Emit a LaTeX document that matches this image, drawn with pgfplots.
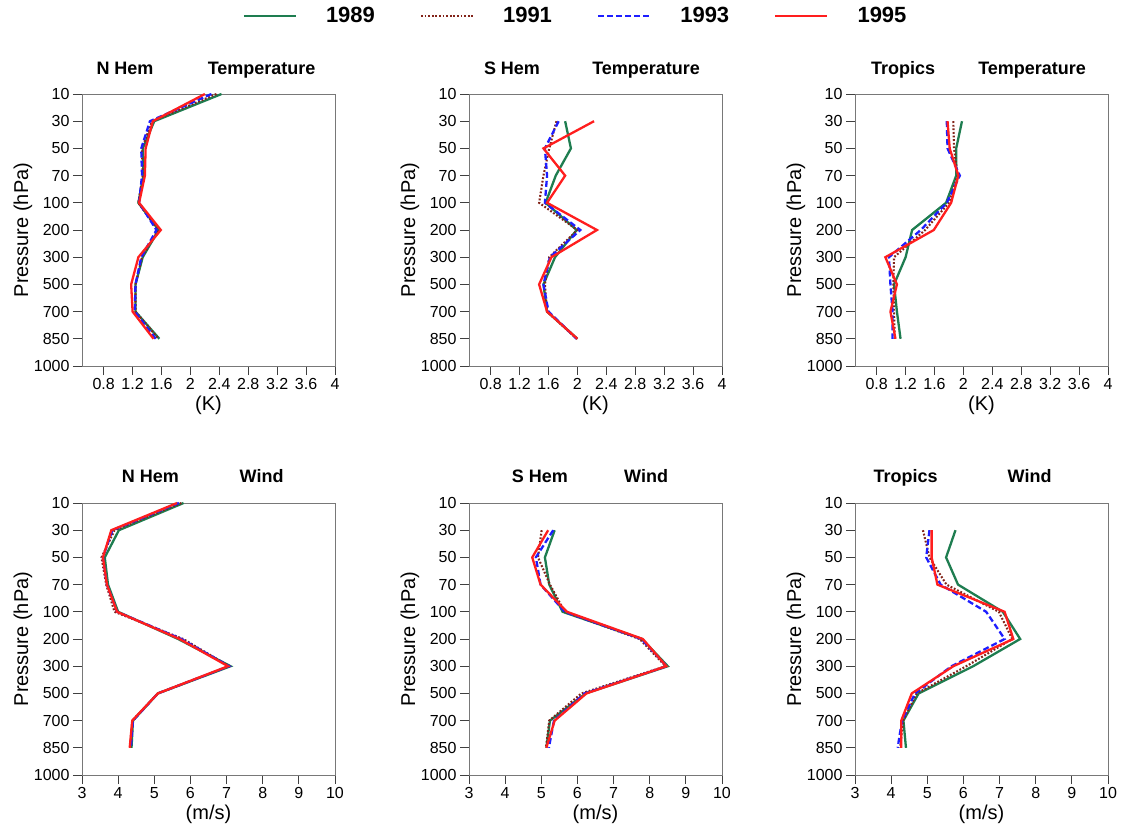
\documentclass[border=0pt]{standalone}
\usepackage{fontspec}
\setmainfont{Liberation Sans}
\usepackage{pgfplots}
\pgfplotsset{compat=1.18}
\definecolor{cg}{RGB}{30,125,80}
\definecolor{cb}{RGB}{130,35,25}
\definecolor{cbl}{RGB}{30,30,255}
\definecolor{cr}{RGB}{255,30,30}
\definecolor{fr}{RGB}{120,120,120}
\pgfplotsset{
  sg/.style={cg, line width=2.3pt, solid},
  sb/.style={cb, line width=2.1pt, dash pattern=on 1.8pt off 1.8pt},
  sbl/.style={cbl, line width=2.3pt, dash pattern=on 6pt off 3pt},
  sr/.style={cr, line width=2.3pt, solid},
  base/.style={
    scale only axis, width=253pt, height=272pt,
    ymin=0, ymax=10, y dir=reverse,
    ytick={0,...,10},
    yticklabels={10,30,50,70,100,200,300,500,700,850,1000},
    tick align=outside, xtick pos=bottom, ytick pos=left,
    major tick length=9pt,
    axis line style={fr, line width=0.9pt},
    tick style={black!75, line width=0.9pt},
    ticklabel style={font=\fontsize{16}{16}\selectfont},
    /pgf/number format/assume math mode=true,
    ylabel={Pressure (hPa)},
    every axis y label/.style={at={(axis description cs:-0.2332,0.5)}, rotate=90, anchor=center, font=\fontsize{20}{20}\selectfont},
    every axis x label/.style={at={(axis description cs:0.5,-0.145)}, anchor=center, font=\fontsize{20}{20}\selectfont},
    clip=false,
  },
  temp/.style={base, xmin=0.5, xmax=4, xtick={0.8,1.2,1.6,2,2.4,2.8,3.2,3.6,4}, xlabel={(K)}},
  wind/.style={base, xmin=3, xmax=10, xtick={3,...,10}, xlabel={(m/s)}},
}
\begin{document}
\begin{tikzpicture}
\useasboundingbox (0,0) rectangle (1125pt,-829pt);
% ---------- N Hem Temperature
\begin{axis}[temp, at={(82pt,-94pt)}, anchor=north west,
  legend columns=4,
  legend style={draw=none, fill=none, at={(axis description cs:1.947,1.287)}, anchor=center,
    font=\fontsize{22}{22}\selectfont\bfseries,
    nodes={inner sep=0pt},
    /tikz/every odd column/.style={column sep=29pt},
    /tikz/every even column/.style={column sep=45pt}},
  legend image code/.code={\draw[#1] (0pt,0pt) -- (52pt,0pt);},
]
\addplot[sg] coordinates {(2.43,0)(1.50,1)(1.34,2)(1.35,3)(1.28,4)(1.56,5)(1.34,6)(1.24,7)(1.24,8)(1.57,9)};
\addplot[sb] coordinates {(2.36,0)(1.47,1)(1.33,2)(1.34,3)(1.28,4)(1.55,5)(1.33,6)(1.24,7)(1.24,8)(1.56,9)};
\addplot[sbl] coordinates {(2.29,0)(1.44,1)(1.32,2)(1.33,3)(1.29,4)(1.53,5)(1.32,6)(1.24,7)(1.23,8)(1.52,9)};
\addplot[sr] coordinates {(2.20,0)(1.48,1)(1.38,2)(1.37,3)(1.29,4)(1.59,5)(1.28,6)(1.18,7)(1.20,8)(1.49,9)};
\legend{1989,1991,1993,1995}
\node[font=\fontsize{18}{18}\selectfont\bfseries, anchor=base] at (axis description cs:0.17,1) [yshift=19.5pt] {N Hem};
\node[font=\fontsize{18}{18}\selectfont\bfseries, anchor=base] at (axis description cs:0.71,1) [yshift=19.5pt] {Temperature};
\end{axis}
% ---------- S Hem Temperature
\begin{axis}[temp, at={(469pt,-94pt)}, anchor=north west]
\addplot[sg] coordinates {(1.83,1)(1.91,2)(1.70,3)(1.56,4)(1.99,5)(1.69,6)(1.53,7)(1.58,8)(2.00,9)};
\addplot[sb] coordinates {(1.71,1)(1.61,2)(1.53,3)(1.47,4)(2.00,5)(1.61,6)(1.55,7)(1.58,8)(1.99,9)};
\addplot[sbl] coordinates {(1.74,1)(1.55,2)(1.58,3)(1.55,4)(2.04,5)(1.62,6)(1.53,7)(1.60,8)(1.99,9)};
\addplot[sr] coordinates {(2.23,1)(1.53,2)(1.83,3)(1.58,4)(2.27,5)(1.64,6)(1.47,7)(1.58,8)(2.00,9)};
\node[font=\fontsize{18}{18}\selectfont\bfseries, anchor=base] at (axis description cs:0.17,1) [yshift=19.5pt] {S Hem};
\node[font=\fontsize{18}{18}\selectfont\bfseries, anchor=base] at (axis description cs:0.70,1) [yshift=19.5pt] {Temperature};
\end{axis}
% ---------- Tropics Temperature
\begin{axis}[temp, at={(855pt,-94pt)}, anchor=north west]
\addplot[sg] coordinates {(1.98,1)(1.90,2)(1.90,3)(1.76,4)(1.29,5)(1.20,6)(1.04,7)(1.08,8)(1.13,9)};
\addplot[sb] coordinates {(1.86,1)(1.87,2)(1.92,3)(1.80,4)(1.47,5)(1.04,6)(1.03,7)(1.04,8)(1.05,9)};
\addplot[sbl] coordinates {(1.77,1)(1.78,2)(1.95,3)(1.77,4)(1.41,5)(0.97,6)(0.99,7)(1.02,8)(1.02,9)};
\addplot[sr] coordinates {(1.78,1)(1.81,2)(1.93,3)(1.83,4)(1.59,5)(0.92,6)(1.08,7)(0.99,8)(1.06,9)};
\node[font=\fontsize{18}{18}\selectfont\bfseries, anchor=base] at (axis description cs:0.19,1) [yshift=19.5pt] {Tropics};
\node[font=\fontsize{18}{18}\selectfont\bfseries, anchor=base] at (axis description cs:0.70,1) [yshift=19.5pt] {Temperature};
\end{axis}
% ---------- N Hem Wind
\begin{axis}[wind, at={(82pt,-503pt)}, anchor=north west]
\addplot[sg] coordinates {(5.81,0)(4.02,1)(3.63,2)(3.72,3)(4.00,4)(5.66,5)(7.11,6)(5.10,7)(4.41,8)(4.37,9)};
\addplot[sb] coordinates {(5.75,0)(3.90,1)(3.54,2)(3.67,3)(3.90,4)(5.80,5)(7.07,6)(5.10,7)(4.39,8)(4.33,9)};
\addplot[sbl] coordinates {(5.68,0)(3.84,1)(3.58,2)(3.69,3)(3.97,4)(5.75,5)(7.07,6)(5.10,7)(4.41,8)(4.35,9)};
\addplot[sr] coordinates {(5.63,0)(3.81,1)(3.58,2)(3.69,3)(3.97,4)(5.70,5)(7.04,6)(5.10,7)(4.39,8)(4.32,9)};
\node[font=\fontsize{18}{18}\selectfont\bfseries, anchor=base] at (axis description cs:0.27,1) [yshift=20.5pt] {N Hem};
\node[font=\fontsize{18}{18}\selectfont\bfseries, anchor=base] at (axis description cs:0.71,1) [yshift=20.5pt] {Wind};
\end{axis}
% ---------- S Hem Wind
\begin{axis}[wind, at={(469pt,-503pt)}, anchor=north west]
\addplot[sg] coordinates {(5.37,1)(5.10,2)(5.22,3)(5.59,4)(7.79,5)(8.50,6)(6.23,7)(5.24,8)(5.14,9)};
\addplot[sb] coordinates {(5.01,1)(4.91,2)(5.24,3)(5.65,4)(7.72,5)(8.44,6)(6.11,7)(5.22,8)(5.13,9)};
\addplot[sbl] coordinates {(5.33,1)(4.85,2)(4.98,3)(5.65,4)(7.77,5)(8.47,6)(6.20,7)(5.35,8)(5.21,9)};
\addplot[sr] coordinates {(5.19,1)(4.75,2)(4.98,3)(5.71,4)(7.81,5)(8.46,6)(6.25,7)(5.37,8)(5.14,9)};
\node[font=\fontsize{18}{18}\selectfont\bfseries, anchor=base] at (axis description cs:0.28,1) [yshift=20.5pt] {S Hem};
\node[font=\fontsize{18}{18}\selectfont\bfseries, anchor=base] at (axis description cs:0.70,1) [yshift=20.5pt] {Wind};
\end{axis}
% ---------- Tropics Wind
\begin{axis}[wind, at={(855pt,-503pt)}, anchor=north west]
\addplot[sg] coordinates {(5.78,1)(5.52,2)(5.85,3)(7.09,4)(7.57,5)(6.27,6)(4.76,7)(4.34,8)(4.41,9)};
\addplot[sb] coordinates {(4.88,1)(5.06,2)(5.53,3)(6.98,4)(7.35,5)(6.08,6)(4.71,7)(4.33,8)(4.25,9)};
\addplot[sbl] coordinates {(5.06,1)(4.97,2)(5.37,3)(6.63,4)(7.14,5)(5.67,6)(4.66,7)(4.30,8)(4.18,9)};
\addplot[sr] coordinates {(5.12,1)(5.12,2)(5.28,3)(7.14,4)(7.38,5)(5.72,6)(4.57,7)(4.28,8)(4.28,9)};
\node[font=\fontsize{18}{18}\selectfont\bfseries, anchor=base] at (axis description cs:0.20,1) [yshift=20.5pt] {Tropics};
\node[font=\fontsize{18}{18}\selectfont\bfseries, anchor=base] at (axis description cs:0.69,1) [yshift=20.5pt] {Wind};
\end{axis}
\end{tikzpicture}
\end{document}
